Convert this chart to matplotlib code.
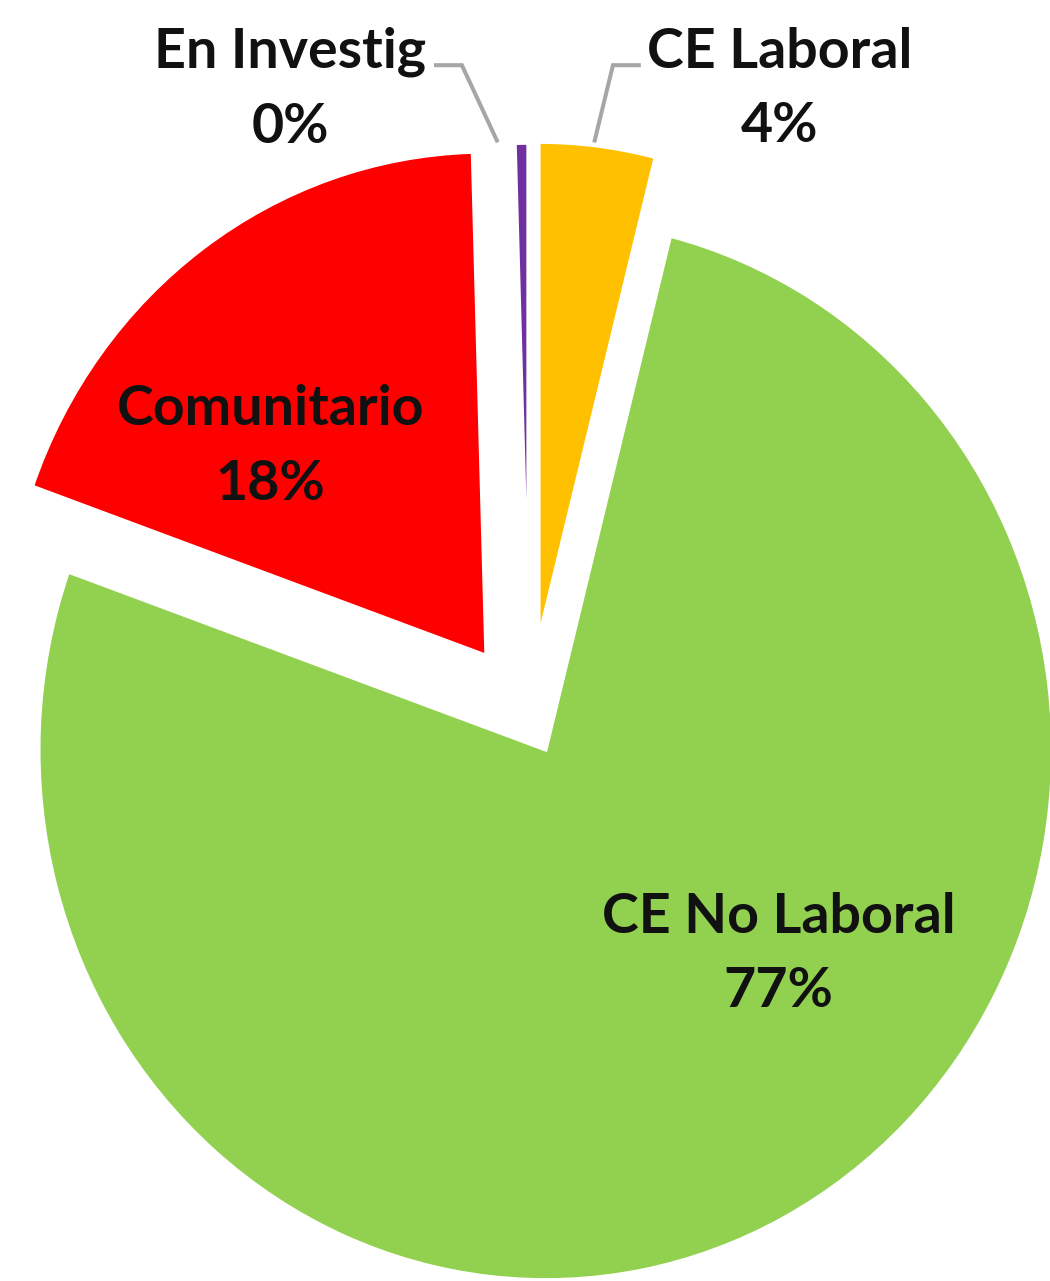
import matplotlib
matplotlib.use("Agg")
import matplotlib.pyplot as plt

# slice data, clockwise from 12 o'clock
names = ["CE Laboral", "CE No Laboral", "Comunitario", "En Investig"]
values = [3.95, 76.5, 19.1, 0.45]
pct_labels = ["4%", "77%", "18%", "0%"]
colors = ["#FFC000", "#92D050", "#FF0000", "#7030A0"]

# how far each slice is pulled out, and its drawn radius
explode = [0.152, 0.069, 0.145, 0.17]
radii = [0.935, 1.0, 0.95, 0.914]

# label block centres (data units) and leader lines
label_pos = [(0.494, 1.186), (0.492, -0.446), (-0.510, 0.512), (-0.472, 1.186)]
leaders = {
    "CE Laboral": ([0.216, 0.165, 0.129], [1.231, 1.231, 1.089]),
    "En Investig": ([-0.184, -0.133, -0.064], [1.231, 1.231, 1.089]),
}

fig = plt.figure(figsize=(10.5, 12.81), dpi=100)
ax = fig.add_axes([0, 0, 1, 1])

wedges, _ = ax.pie(values, colors=colors, explode=explode, startangle=90,
                   counterclock=False, radius=1.0,
                   wedgeprops=dict(edgecolor="white", linewidth=2.5))
for w, r in zip(wedges, radii):
    w.set_radius(r)

for name, pct, (x, y) in zip(names, pct_labels, label_pos):
    ax.text(x, y, f"{name}\n{pct}", ha="center", va="center",
            fontsize=40, fontweight="bold", family="Lato",
            color="#111111", linespacing=1.6)

for xs, ys in leaders.values():
    ax.plot(xs, ys, color="#A6A6A6", linewidth=2.9, solid_joinstyle="miter")

ax.set_aspect("auto")
ax.set_xlim(-1.044, 1.027)
ax.set_ylim(-1.063, 1.354)
ax.axis("off")

fig.savefig("out.png", dpi=100, facecolor="white")
